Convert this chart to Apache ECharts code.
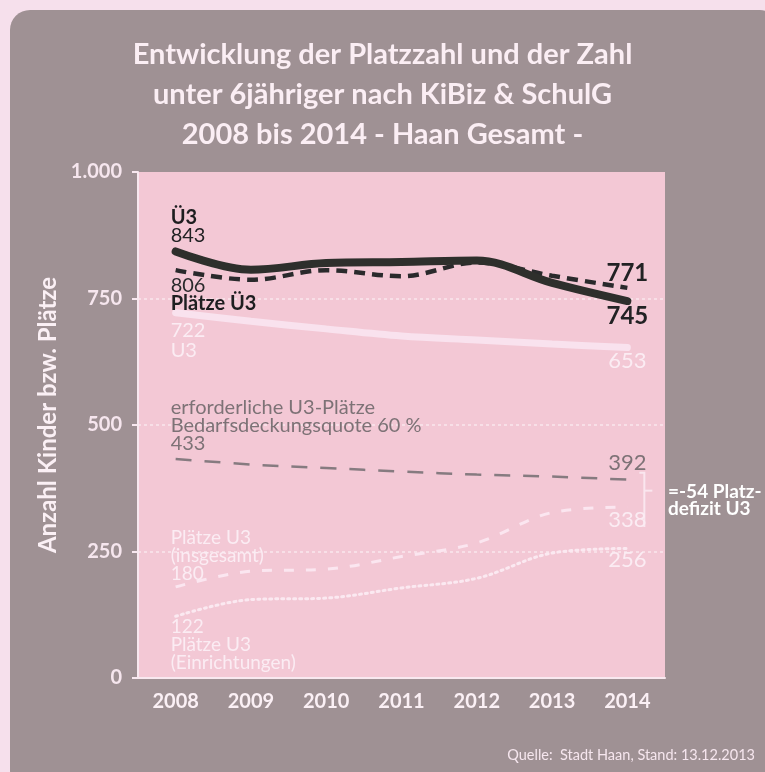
<!DOCTYPE html>
<html>
<head>
<meta charset="utf-8">
<script src="https://cdn.jsdelivr.net/npm/echarts@6/dist/echarts.min.js"></script>
<style>
  html, body { margin: 0; padding: 0; background: #f6e0ec; }
  #chart { width: 765px; height: 772px; }
</style>
</head>
<body>
<div id="chart"></div>
<script>
var years = ['2008', '2009', '2010', '2011', '2012', '2013', '2014'];
var ue3 = [843, 807, 820, 822, 825, 781, 745];
var plaetzeUe3 = [806, 787, 806, 794, 821, 795, 771];
var u3 = [722, 705, 690, 676, 668, 660, 653];
var bedarf = [433, 422, 415, 408, 402, 398, 392];
var plaetzeU3Ges = [180, 211, 215, 240, 267, 327, 338];
var plaetzeU3Einr = [122, 155, 158, 178, 197, 247, 256];
var yTicks = [0, 250, 500, 750, 1000];

var FONT = 'Lato';
var chart = echarts.init(document.getElementById('chart'));

// Beschriftung am ersten und letzten Punkt
function withLabels(values, first, last, color, weight) {
  return values.map(function (v, i) {
    var item = { value: v };
    var l = i === 0 ? first : (i === values.length - 1 ? last : null);
    if (l) {
      item.label = {
        show: true,
        position: l.pos,
        distance: l.dist || 6,
        align: i === 0 ? 'left' : 'center',
        offset: i === 0 ? [-5, 0] : [0, 0],
        formatter: l.text,
        color: color,
        fontFamily: FONT,
        fontSize: l.size || 19,
        fontWeight: l.weight || weight,
        lineHeight: l.lh || 18,
        rich: l.rich
      };
    }
    return item;
  });
}

function lineSeries(name, lineStyle, data) {
  return {
    name: name, type: 'line', smooth: 0.35,
    symbol: 'circle', symbolSize: 0, showSymbol: true,
    lineStyle: lineStyle, data: data
  };
}

var gridColor = '#fbeef3';
var lightText = '#fbecf3';

var option = {
  animation: false,
  graphic: [
    { type: 'rect', z: -10, shape: { x: 10, y: 10, width: 770, height: 780, r: 20 }, style: { fill: '#9f9194' } },
    { type: 'text', left: 'center', top: 35, style: {
        text: 'Entwicklung der Platzzahl und der Zahl\nunter 6jähriger nach KiBiz & SchulG\n2008 bis 2014 - Haan Gesamt -',
        fill: '#fbeef4', font: 'bold 29px Lato', lineHeight: 40, textAlign: 'center' } },
    { type: 'text', x: 48, y: 415, rotation: Math.PI / 2, style: {
        text: 'Anzahl Kinder bzw. Plätze', fill: '#fbf0f5', font: 'bold 24px Lato',
        textAlign: 'center', textVerticalAlign: 'middle' } },
    { type: 'text', right: 10, top: 748, style: {
        text: 'Quelle:  Stadt Haan, Stand: 13.12.2013', fill: '#f6e6ee', font: '14.5px Lato' } }
  ],
  grid: {
    left: 138, right: 100, top: 172, bottom: 94,
    show: true, backgroundColor: '#f3c8d5', borderWidth: 0
  },
  xAxis: {
    type: 'category',
    data: years,
    boundaryGap: true,
    axisLine: { lineStyle: { color: '#f8e8ef', width: 2 } },
    axisTick: { show: false },
    axisLabel: { color: '#fbf0f5', fontFamily: FONT, fontWeight: 'bold', fontSize: 20, margin: 14 }
  },
  yAxis: {
    type: 'value',
    min: yTicks[0], max: yTicks[yTicks.length - 1], interval: yTicks[1] - yTicks[0],
    axisLine: { show: true, lineStyle: { color: '#f8e8ef', width: 2 } },
    axisTick: { show: true, length: 6, lineStyle: { color: '#f8e8ef', width: 2 } },
    axisLabel: {
      color: '#f6e6ee', fontFamily: FONT, fontWeight: 'bold', fontSize: 20, margin: 16,
      formatter: function (v) { return v >= 1000 ? (v / 1000) + '.000' : v; }
    },
    splitLine: { show: true, lineStyle: {
      color: ['rgba(0,0,0,0)', gridColor, gridColor, gridColor, 'rgba(0,0,0,0)'],
      width: 1.5, type: [3, 3], opacity: 0.8 } }
  },
  series: [
    lineSeries('Plätze U3 (Einrichtungen)',
      { color: '#fbe9f1', width: 3, type: [2, 4], cap: 'round' },
      withLabels(plaetzeU3Einr,
        { pos: 'bottom', text: plaetzeU3Einr[0] + '\nPlätze U3\n(Einrichtungen)', size: 19, dist: 2 },
        { pos: 'bottom', text: String(plaetzeU3Einr[6]), dist: 2, size: 22 },
        lightText, 'normal')),
    lineSeries('Plätze U3 (insgesamt)',
      { color: '#fbe6f0', width: 3, type: [10, 12] },
      withLabels(plaetzeU3Ges,
        { pos: 'top', text: 'Plätze U3\n(insgesamt)\n' + plaetzeU3Ges[0], size: 19, dist: 4 },
        { pos: 'bottom', text: String(plaetzeU3Ges[6]), dist: 4, size: 22 },
        lightText, 'normal')),
    lineSeries('erforderliche U3-Plätze',
      { color: '#867b80', width: 2.5, type: [16, 13] },
      withLabels(bedarf,
        { pos: 'top', text: 'erforderliche U3-Plätze\nBedarfsdeckungsquote 60 %\n' + bedarf[0], size: 20, dist: 6 },
        { pos: 'top', text: String(bedarf[6]), dist: 8, size: 22 },
        '#7d7276', 'normal')),
    lineSeries('U3',
      { color: '#f9e2ee', width: 7, cap: 'round' },
      withLabels(u3,
        { pos: 'bottom', text: u3[0] + '\nU3', dist: 8, size: 20, lh: 20 },
        { pos: 'bottom', text: String(u3[6]), dist: 4, size: 22 },
        lightText, 'normal')),
    lineSeries('Plätze Ü3',
      { color: '#2a2a2c', width: 4.5, type: [11, 7] },
      withLabels(plaetzeUe3,
        { pos: 'bottom', text: '{n|' + plaetzeUe3[0] + '}\n{b|Plätze Ü3}', dist: 6,
          rich: { n: { fontFamily: FONT, fontSize: 20, color: '#2a2a2c', lineHeight: 18 },
                  b: { fontFamily: FONT, fontSize: 20, fontWeight: 'bold', color: '#1e1e20', lineHeight: 18 } } },
        { pos: 'top', text: String(plaetzeUe3[6]), dist: 6, weight: 'bold', size: 24 },
        '#222224', 'normal')),
    lineSeries('Ü3',
      { color: '#2e2f2c', width: 8, cap: 'round' },
      withLabels(ue3,
        { pos: 'top', text: '{b|Ü3}\n{n|' + ue3[0] + '}', dist: 7,
          rich: { n: { fontFamily: FONT, fontSize: 20, color: '#222224', lineHeight: 18 },
                  b: { fontFamily: FONT, fontSize: 20, fontWeight: 'bold', color: '#1e1e20', lineHeight: 18 } } },
        { pos: 'bottom', text: String(ue3[6]), dist: 6, weight: 'bold', size: 24 },
        '#222224', 'normal'))
  ]
};
chart.setOption(option);

// Klammer für das Platzdefizit neben 2014
var last = years.length - 1;
var pTop = chart.convertToPixel({ seriesIndex: 2 }, [last, bedarf[last]]);
var pBot = chart.convertToPixel({ seriesIndex: 1 }, [last, plaetzeU3Ges[last]]);
var bx = pTop[0] + 17;
var deficit = plaetzeU3Ges[last] - bedarf[last];
option.graphic.push(
  { type: 'polyline', shape: { points: [[bx - 5, pTop[1] - 7], [bx, pTop[1] - 7], [bx, pBot[1] + 20]] },
    style: { stroke: '#fae6ef', lineWidth: 2, fill: null } },
  { type: 'line', shape: { x1: bx, y1: pTop[1] + 11, x2: bx + 8, y2: pTop[1] + 11 },
    style: { stroke: '#fae6ef', lineWidth: 2 } },
  { type: 'text', left: 668, top: pTop[1] + 3, style: {
      text: '=' + deficit + ' Platz-\ndefizit U3', fill: '#ffffff', font: 'bold 19px Lato', lineHeight: 17 } }
);
chart.setOption({ graphic: option.graphic });
</script>
</body>
</html>
